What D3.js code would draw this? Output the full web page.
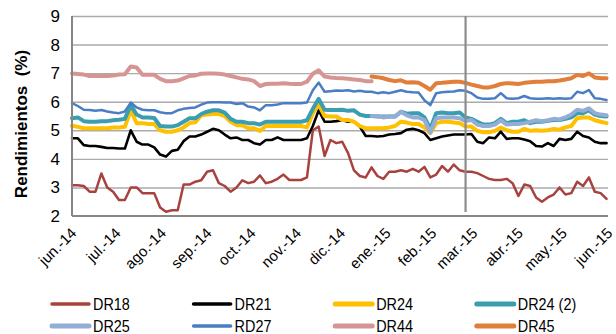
<!DOCTYPE html>
<html>
<head>
<meta charset="utf-8">
<script src="https://cdn.jsdelivr.net/npm/d3@7"></script>
<style>
  html, body { margin: 0; padding: 0; background: #ffffff; }
  svg { display: block; font-family: "Liberation Sans", Arial, sans-serif; }
</style>
</head>
<body>
<svg id="chart" width="616" height="334"></svg>
<script>
// Sampling: one observation every 4 days from 1 Jun 2014
const startDate = new Date(2014, 5, 1);
const stepDays = 4;

const monthTicks = ["2014-06-01","2014-07-01","2014-08-01","2014-09-01","2014-10-01","2014-11-01","2014-12-01",
                    "2015-01-01","2015-02-01","2015-03-01","2015-04-01","2015-05-01","2015-06-01"];
const monthLabels = ["jun.-14","jul.-14","ago.-14","sep.-14","oct.-14","nov.-14","dic.-14",
                     "ene.-15","feb.-15","mar.-15","abr.-15","may.-15","jun.-15"];
const yTicks = [2, 3, 4, 5, 6, 7, 8, 9];
const markerDate = "2015-02-24";

const dr18 = [3.08,3.08,3.05,2.85,2.85,3.49,3.0,2.85,2.56,2.56,3.0,3.0,2.8,2.8,2.8,2.3,2.15,2.2,2.2,3.1,
              3.1,3.2,3.25,3.55,3.6,3.15,3.05,2.85,3.0,3.25,3.15,3.2,3.42,3.15,3.2,3.3,3.45,3.26,3.26,3.26,
              3.35,5.0,5.13,4.1,4.66,4.55,4.6,4.2,3.6,3.4,3.35,3.7,3.4,3.3,3.55,3.55,3.6,3.55,3.65,3.55,
              3.72,3.35,3.45,3.75,3.55,3.8,3.6,3.55,3.55,3.5,3.4,3.3,3.26,3.26,3.3,3.15,2.7,3.1,3.05,2.65,
              2.5,2.65,2.75,3.0,2.75,2.8,3.2,3.05,3.35,2.85,2.8,2.6];
const dr21 = [4.72,4.72,4.48,4.45,4.45,4.42,4.38,4.38,4.36,4.36,5.0,4.6,4.5,4.5,4.4,4.15,4.08,4.28,4.32,4.62,
              4.78,4.78,4.85,4.95,5.05,5.0,4.85,4.72,4.75,4.66,4.66,4.55,4.5,4.66,4.66,4.75,4.66,4.66,4.66,4.66,
              4.72,5.15,5.7,5.3,5.3,5.32,5.35,5.3,5.3,5.13,4.8,4.8,4.78,4.8,4.85,4.87,4.9,5.02,5.05,5.0,
              4.9,4.66,4.72,4.78,4.82,4.85,4.85,4.85,4.87,4.6,4.55,4.75,4.72,4.95,4.7,4.72,4.72,4.68,4.62,4.45,
              4.43,4.55,4.45,4.7,4.66,4.7,4.95,4.8,4.75,4.6,4.55,4.55];
const dr24 = [5.16,5.12,5.07,5.07,5.07,5.07,5.07,5.1,5.1,5.12,5.7,5.25,5.25,5.22,5.22,5.0,4.95,4.95,5.0,5.1,
              5.25,5.28,5.53,5.55,5.57,5.57,5.5,5.3,5.18,5.18,5.07,5.07,4.98,5.15,5.15,5.15,5.15,5.15,5.15,5.15,
              5.1,5.6,5.9,5.5,5.48,5.48,5.36,5.36,5.3,5.15,5.07,5.07,5.07,5.07,5.1,5.15,5.3,5.27,5.22,5.22,
              5.1,4.9,5.25,5.3,5.3,5.27,5.25,5.13,5.13,4.98,4.93,4.93,4.98,5.1,5.0,4.95,4.95,5.05,4.98,5.0,
              4.98,5.0,5.05,5.02,5.1,5.15,5.42,5.45,5.45,5.35,5.3,5.25];
const dr24b = [5.42,5.45,5.32,5.3,5.3,5.32,5.32,5.35,5.37,5.4,5.88,5.55,5.45,5.45,5.43,5.15,5.13,5.13,5.18,5.3,
               5.42,5.42,5.57,5.65,5.7,5.7,5.62,5.4,5.3,5.3,5.25,5.25,5.2,5.3,5.3,5.3,5.3,5.3,5.3,5.3,
               5.35,5.75,6.1,5.72,5.71,5.71,5.72,5.68,5.7,5.55,5.5,5.5,5.48,5.48,5.48,5.48,5.65,5.58,5.6,5.6,
               5.45,5.05,5.6,5.62,5.6,5.6,5.62,5.45,5.4,5.3,5.2,5.2,5.25,5.4,5.25,5.3,5.3,5.35,5.25,5.3,
               5.3,5.33,5.36,5.36,5.4,5.45,5.6,5.6,5.7,5.55,5.5,5.48];
// DR25 and DR45 are quoted from sample 51 onwards; DR44 stops at sample 51
const dr25Start = 51;
const dr25 = [5.5,5.5,5.45,5.48,5.48,5.65,5.52,5.45,5.45,5.35,4.92,5.42,5.45,5.45,5.45,5.42,5.32,5.36,5.2,5.15,
              5.15,5.2,5.35,5.2,5.22,5.22,5.25,5.3,5.35,5.32,5.35,5.4,5.38,5.45,5.55,5.72,5.68,5.77,5.6,5.55,5.53];
const rd27 = [5.95,5.85,5.72,5.71,5.68,5.71,5.66,5.62,5.6,5.66,5.97,5.8,5.72,5.7,5.7,5.63,5.6,5.6,5.7,5.75,
              5.78,5.8,5.9,5.97,5.98,5.98,5.97,5.97,5.92,5.95,5.83,5.8,5.7,5.88,5.88,5.9,5.95,5.95,5.95,5.95,
              5.97,6.4,6.67,6.35,6.37,6.39,6.38,6.4,6.36,6.38,6.35,6.35,6.3,6.33,6.3,6.35,6.4,6.35,6.33,6.32,
              6.05,5.88,6.3,6.33,6.35,6.36,6.4,6.38,6.3,6.15,6.1,6.1,6.12,6.3,6.12,6.1,6.12,6.2,6.12,6.1,
              6.1,6.12,6.1,6.12,6.1,6.12,6.35,6.3,6.41,6.12,6.1,6.06];
const dr44Start = 0;
const dr44 = [6.99,6.97,6.95,6.9,6.9,6.9,6.9,6.92,6.95,6.96,7.23,7.2,6.94,6.94,6.94,6.8,6.72,6.72,6.74,6.82,
              6.9,6.92,6.98,6.99,6.99,6.98,6.95,6.9,6.85,6.8,6.78,6.72,6.55,6.62,6.63,6.63,6.65,6.63,6.62,6.62,
              6.7,6.98,7.1,6.88,6.85,6.83,6.82,6.8,6.78,6.76,6.72,6.72];
const dr45Start = 51;
const dr45 = [6.88,6.86,6.82,6.76,6.72,6.75,6.67,6.68,6.66,6.55,6.42,6.65,6.66,6.68,6.7,6.7,6.66,6.6,6.55,6.5,
              6.5,6.55,6.62,6.65,6.64,6.62,6.66,6.68,6.7,6.7,6.72,6.72,6.74,6.78,6.82,6.94,6.9,6.99,6.85,6.82,6.82];

const seriesNames = ["DR18","DR21","DR24","DR24 (2)","DR25","RD27","DR44","DR45"];
const seriesValues = [dr18, dr21, dr24, dr24b, dr25, rd27, dr44, dr45];
const seriesStarts = [0, 0, 0, 0, dr25Start, 0, dr44Start, dr45Start];
const seriesColors = ["#A8423F","#000000","#FFC000","#3A9DB1","#93ADD6","#4A7EC4","#D69593","#E07E3A"];
const seriesWidths = [2.5, 2.6, 4, 4, 4, 2.5, 4, 4];

const svg = d3.select("#chart");
const plot = { left: 72, right: 608, top: 16, bottom: 216 };

const x = d3.scaleTime()
  .domain([new Date(2014, 5, 1), new Date(2015, 5, 1)])
  .range([plot.left, plot.right]);
const y = d3.scaleLinear().domain([2, 9]).range([plot.bottom, plot.top]);
const parse = d3.timeParse("%Y-%m-%d");
const dateAt = i => d3.timeDay.offset(startDate, i * stepDays);

// Horizontal gridlines and value labels
const yAxis = svg.append("g")
  .attr("transform", `translate(${plot.left},0)`)
  .call(d3.axisLeft(y).tickValues(yTicks).tickSize(-(plot.right - plot.left)).tickPadding(12).tickFormat(d3.format("d")));
yAxis.select(".domain").remove();
yAxis.selectAll(".tick line").attr("stroke", "#ABABAB").attr("stroke-width", 1.4)
  .filter(d => d === 2).remove();
yAxis.selectAll(".tick text").attr("font-size", 17).attr("fill", "#000")
  .attr("font-family", "'Liberation Sans', Arial, sans-serif");

// Month labels along the bottom
const xAxis = svg.append("g")
  .attr("transform", `translate(0,${plot.bottom})`)
  .call(d3.axisBottom(x).tickValues(monthTicks.map(parse)).tickSize(0)
        .tickFormat((d, i) => monthLabels[i]));
xAxis.select(".domain").remove();
xAxis.selectAll(".tick text")
  .attr("font-size", 15).attr("fill", "#000")
  .attr("font-family", "'Liberation Sans', Arial, sans-serif")
  .attr("text-anchor", "end")
  .attr("dy", 0)
  .attr("y", 0)
  .attr("transform", "translate(5,18) rotate(-45)");

// Series lines
const line = d3.line().x(d => x(d.date)).y(d => y(d.value));
seriesValues.forEach((vals, s) => {
  const pts = vals.map((v, i) => ({ date: dateAt(seriesStarts[s] + i), value: v }));
  svg.append("path")
    .datum(pts)
    .attr("d", line)
    .attr("fill", "none")
    .attr("stroke", seriesColors[s])
    .attr("stroke-width", seriesWidths[s])
    .attr("stroke-linejoin", "round")
    .attr("stroke-linecap", "round");
});

// Axis lines
svg.append("line")
  .attr("x1", plot.left).attr("x2", plot.left)
  .attr("y1", plot.top).attr("y2", plot.bottom)
  .attr("stroke", "#868686").attr("stroke-width", 2);
svg.append("line")
  .attr("x1", plot.left).attr("x2", plot.right)
  .attr("y1", plot.bottom).attr("y2", plot.bottom)
  .attr("stroke", "#868686").attr("stroke-width", 2);

// Vertical marker line
svg.append("line")
  .attr("x1", x(parse(markerDate))).attr("x2", x(parse(markerDate)))
  .attr("y1", plot.top).attr("y2", plot.bottom - 4)
  .attr("stroke", "#8C8C8C").attr("stroke-width", 2.2);

// Axis title
svg.append("text")
  .attr("transform", "translate(27,124) rotate(-90)")
  .attr("text-anchor", "middle")
  .attr("font-size", 17)
  .attr("font-weight", "bold")
  .style("white-space", "pre")
  .text("Rendimientos  (%)");

// Legend: two rows of four
const legend = svg.append("g");
seriesNames.forEach((name, i) => {
  const col = i % 4, row = Math.floor(i / 4);
  const lx = 52 + col * 141.6, ly = 304 + row * 22;
  legend.append("line")
    .attr("x1", lx).attr("x2", lx + 37)
    .attr("y1", ly).attr("y2", ly)
    .attr("stroke", seriesColors[i])
    .attr("stroke-width", seriesWidths[i] + 1)
    .attr("stroke-linecap", "round");
  legend.append("text")
    .attr("transform", `translate(${lx + 41},${ly + 6}) scale(0.9,1)`)
    .attr("font-size", 16)
    .attr("fill", "#000")
    .text(name);
});
</script>
</body>
</html>
